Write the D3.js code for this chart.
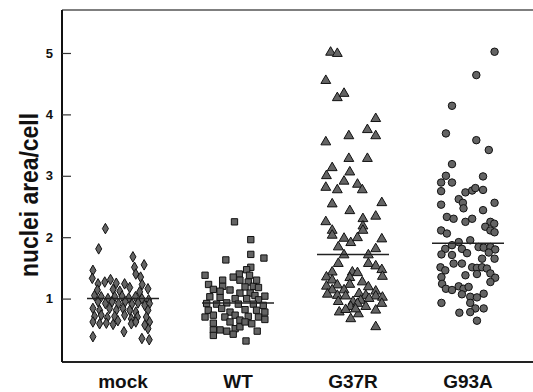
<!DOCTYPE html>
<html>
<head>
<script src="https://cdn.jsdelivr.net/npm/d3@7"></script>
<style>
  html, body { margin: 0; padding: 0; background: #fff; }
  svg { display: block; font-family: "Liberation Sans", Arial, sans-serif; }
  .tick text { font-weight: bold; font-size: 13px; }
  .pt { fill: #646464; stroke: #111; stroke-width: 1; }
</style>
</head>
<body>
<svg id="chart" width="533" height="392"></svg>
<script>
// groups and their marker shapes
var groups = ["mock", "WT", "G37R", "G93A"];
var yTicks = [1, 2, 3, 4, 5];
var medians = [1.00, 0.93, 1.72, 1.90];

// nuclei area/cell per cell
var mockVals = [2.14,1.81,1.68,1.51,1.55,1.46,1.40,1.35,1.33,1.24,1.27,1.31,1.25,1.24,1.18,1.16,1.23,1.15,1.12,1.05,
  1.03,1.00,1.03,1.04,1.01,1.03,1.00,0.98,0.95,0.92,0.95,0.92,0.95,0.91,0.93,0.89,0.92,0.84,0.81,0.84,
  0.81,0.84,0.81,0.78,0.81,0.71,0.73,0.69,0.71,0.73,0.67,0.70,0.70,0.62,0.59,0.60,0.58,0.59,0.62,0.62,
  0.51,0.57,0.38,0.46,0.35,0.33,0.64,1.14,1.11];
var wtVals = [2.25,1.96,1.72,1.63,1.66,1.51,1.47,1.38,1.40,1.38,1.30,1.23,1.30,1.27,1.20,1.19,1.20,1.18,1.15,1.14,
  1.09,1.09,1.05,1.04,1.03,1.02,1.00,1.00,0.98,0.92,0.91,0.93,0.91,0.91,0.89,0.81,0.84,0.78,0.82,0.81,
  0.78,0.73,0.70,0.73,0.71,0.70,0.66,0.70,0.60,0.62,0.65,0.59,0.49,0.49,0.47,0.51,0.54,0.47,0.40,0.42,
  0.31,1.35,1.30,1.12,0.62];
var g37rVals = [5.01,4.99,4.55,4.27,4.34,3.93,3.75,3.65,3.65,3.55,3.28,3.28,3.13,3.00,3.06,2.91,2.81,2.77,2.86,2.77,
  2.54,2.56,2.43,2.34,2.30,2.18,2.25,2.11,2.03,1.98,1.91,1.99,1.97,2.11,1.84,1.81,1.71,1.71,1.57,1.57,
  1.53,1.47,1.43,1.43,1.42,1.35,1.30,1.34,1.36,1.22,1.23,1.27,1.20,1.14,1.14,1.19,1.12,1.07,1.05,1.04,
  1.08,1.05,1.04,1.02,0.95,0.95,0.97,1.00,0.92,0.78,0.87,0.92,0.87,0.81,0.67,0.75,0.54,0.82,0.83];
var g93aVals = [5.02,4.64,4.14,3.69,3.58,3.42,3.19,3.00,2.89,2.89,2.99,2.75,2.73,2.76,2.80,2.77,2.62,2.56,2.47,2.56,
  2.44,2.53,2.33,2.30,2.30,2.25,2.25,2.22,2.17,2.11,2.08,2.11,2.06,1.87,1.92,1.95,1.81,1.72,1.71,1.81,
  1.74,1.84,1.83,1.84,1.80,1.75,1.65,1.65,1.57,1.51,1.46,1.35,1.51,1.50,1.51,1.49,1.38,1.40,1.41,1.34,
  1.27,1.24,1.16,1.14,1.20,1.16,1.19,1.07,1.03,1.02,1.08,0.93,0.93,0.84,0.84,0.77,0.78,0.64,1.57];

// horizontal scatter of each point within its column (-1 .. 1)
var mockJit = [-0.55,-0.76,0.31,0.36,0.66,-0.94,0.40,0.55,-0.96,-0.78,-0.57,-0.39,-0.21,0.05,0.21,0.78,0.60,-0.31,-0.10,-0.89,
  -0.68,-0.47,-0.26,-0.03,0.18,0.39,0.59,0.80,-0.78,-0.55,-0.34,-0.14,0.07,0.28,0.47,0.68,0.83,-0.94,-0.73,-0.42,
  -0.21,0.00,0.21,0.40,0.78,-0.89,-0.68,-0.49,-0.26,0.05,0.26,0.45,0.73,-0.94,-0.73,-0.52,-0.31,0.26,0.40,0.83,
  0.78,0.68,-0.94,0.03,0.59,0.82,-0.16,-0.80,0.52];
var wtJit = [-0.11,0.40,0.40,-0.38,0.81,0.40,0.27,-1.03,0.04,0.36,-0.48,-0.92,0.06,0.32,-0.48,0.22,0.48,0.64,-0.77,-0.25,
  0.06,0.38,0.53,0.84,-0.88,-0.56,-0.09,0.27,0.64,-0.98,-0.67,-0.35,0.01,0.48,0.79,-0.93,-0.51,-0.25,0.22,0.58,
  0.84,-0.77,-0.41,-0.09,0.32,0.64,0.84,-1.03,-0.77,-0.25,0.06,0.43,-0.77,-0.56,-0.35,-0.09,0.06,0.60,-0.77,-0.15,
  0.25,-0.15,0.58,-0.56,0.22];
var g37rJit = [-0.70,-0.49,-0.85,-0.49,-0.28,0.71,0.45,0.71,-0.13,-0.85,-0.13,0.45,-0.65,-0.83,-0.10,-0.28,-0.85,-0.49,0.14,0.29,
  -0.65,0.90,-0.10,0.71,0.31,0.31,-0.85,-0.65,-0.65,-0.28,-0.07,0.14,0.90,0.31,-0.46,0.71,-0.28,0.48,-0.46,0.48,
  0.71,0.90,-0.65,-0.02,0.14,-0.83,-0.65,-0.10,0.92,-0.49,-0.10,0.29,-0.83,-0.65,-0.28,0.48,0.71,-0.80,-0.49,-0.23,
  0.19,0.40,0.71,0.92,-0.46,0.00,0.24,0.50,0.90,-0.43,-0.07,0.14,0.40,0.71,-0.07,0.17,0.71,-0.23,0.08];
var g93aJit = [0.83,0.26,-0.50,-0.69,0.26,0.65,-0.50,-0.69,-0.50,-0.84,0.47,-0.84,-0.08,0.13,0.23,0.47,-0.29,-0.16,-0.14,0.83,
  0.47,-0.84,-0.66,-0.45,0.13,-0.08,0.70,0.82,0.54,0.70,0.83,-0.84,-0.66,-0.50,-0.29,0.07,-0.71,-0.83,-0.50,-0.19,
  -0.03,0.33,0.49,0.70,0.85,0.65,0.83,0.44,-0.45,-0.86,-0.71,-0.83,0.13,0.28,0.44,0.59,-0.08,0.28,0.70,0.85,
  0.70,-0.81,-0.69,-0.50,-0.29,-0.14,0.02,-0.19,0.07,0.28,0.49,-0.83,0.07,0.23,0.49,-0.27,0.07,0.28,-0.19];

var values = [mockVals, wtVals, g37rVals, g93aVals];
var jitter = [mockJit, wtJit, g37rJit, g93aJit];
var shapes = [d3.symbolDiamond, d3.symbolSquare, d3.symbolTriangle, d3.symbolCircle];
var sizes = [32, 40, 42, 44];

var svg = d3.select("#chart");
var plotL = 62, plotT = 10, plotR = 533, plotB = 362;

var x = d3.scalePoint().domain(groups).range([123, 468]);
var jx = d3.scaleLinear().domain([-1, 1]).range([-32, 32]);
var y = d3.scaleLinear().domain([0, 5.7]).range([360, 10]);

// frame
svg.append("line").attr("x1", plotL).attr("x2", plotR).attr("y1", plotT).attr("y2", plotT)
  .attr("stroke", "#555").attr("stroke-width", 1.5);
svg.append("line").attr("x1", plotL).attr("x2", plotR).attr("y1", plotB).attr("y2", plotB)
  .attr("stroke", "#222").attr("stroke-width", 2);

// y axis, ticks pointing into the plot
var yAxis = svg.append("g").attr("transform", "translate(" + plotL + ",0)")
  .call(d3.axisLeft(y).tickValues(yTicks).tickFormat(d3.format("d"))
    .tickSizeInner(-9).tickSizeOuter(0).tickPadding(9));
yAxis.select(".domain").attr("d", "M0," + plotT + "V" + plotB).attr("stroke", "#111").attr("stroke-width", 2);
yAxis.selectAll(".tick line").attr("stroke", "#333").attr("stroke-width", 1.2);
yAxis.selectAll(".tick text").attr("fill", "#111");

svg.append("text")
  .attr("transform", "translate(38,195) rotate(-90)")
  .attr("text-anchor", "middle")
  .attr("font-weight", "bold").attr("font-size", 26).attr("fill", "#111")
  .attr("textLength", 164).attr("lengthAdjust", "spacingAndGlyphs")
  .text("nuclei area/cell");

// category labels
svg.selectAll(".xlab").data(groups).enter().append("text")
  .attr("class", "xlab")
  .attr("x", function (d) { return x(d); })
  .attr("y", 388)
  .attr("text-anchor", "middle")
  .attr("font-weight", "bold").attr("font-size", 19).attr("fill", "#111")
  .text(function (d) { return d; });

// points
groups.forEach(function (g, i) {
  var sym = d3.symbol().type(shapes[i]).size(sizes[i]);
  svg.append("g").selectAll("path").data(values[i]).enter().append("path")
    .attr("class", "pt")
    .attr("d", sym)
    .attr("transform", function (d, k) {
      return "translate(" + (x(g) + jx(jitter[i][k])) + "," + y(d) + ")";
    });
});

// median lines
svg.append("g").selectAll("line").data(medians).enter().append("line")
  .attr("x1", function (d, i) { return x(groups[i]) - 36; })
  .attr("x2", function (d, i) { return x(groups[i]) + 36; })
  .attr("y1", function (d) { return y(d); })
  .attr("y2", function (d) { return y(d); })
  .attr("stroke", "#222").attr("stroke-width", 1.5);
</script>
</body>
</html>
